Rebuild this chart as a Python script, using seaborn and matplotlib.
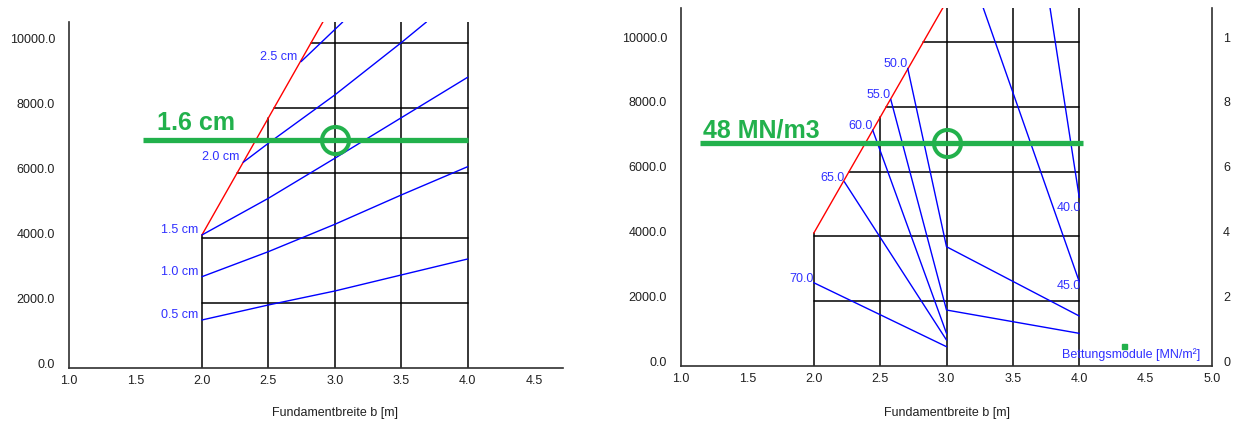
import numpy as np
import pandas as pd
import matplotlib
matplotlib.use("Agg")
import matplotlib.pyplot as plt
from matplotlib.transforms import ScaledTranslation, blended_transform_factory
import seaborn as sns

# ---------------- data ----------------
# left chart: settlement curves s [cm] over footing width b [m] and load [kN]
settle_labels = ["0.5 cm", "1.0 cm", "1.5 cm", "2.0 cm", "2.5 cm"]
s05_b = [2.0, 2.5, 3.0, 3.5, 4.0]
s05_q = [1486, 1948, 2378, 2871, 3363]
s10_b = [2.0, 2.5, 3.0, 3.5, 4.0]
s10_q = [2818, 3588, 4430, 5332, 6203]
s15_b = [2.0, 2.5, 3.0, 3.5, 4.0]
s15_q = [4101, 5230, 6461, 7708, 8954]
s20_b = [2.311, 2.5, 3.0, 3.5, 3.69]
s20_q = [6338, 6923, 8409, 10018, 10655]
s25_b = [2.746, 3.06]
s25_q = [9434, 10655]

# limit line (red) of both charts
limit_left_b = [2.0, 3.0]
limit_left_q = [4100, 11300]
limit_right_b = [2.0, 3.0]
limit_right_q = [4100, 11250]

# right chart: subgrade modulus lines [MN/m3]
modulus_labels = ["70.0", "65.0", "60.0", "55.0", "50.0", "45.0", "40.0"]
k70_b = [2.0, 3.0]
k70_q = [2571, 596]
k65_b = [2.23, 3.0]
k65_q = [5688, 802]
k60_b = [2.444, 3.0]
k60_q = [7283, 1008]
k55_b = [2.58, 3.0, 4.0]
k55_q = [8230, 1728, 1008]
k50_b = [2.708, 3.0, 4.0]
k50_q = [9187, 3682, 1543]
k45_b = [3.277, 4.0]
k45_q = [11050, 2602]
k40_b = [3.78, 4.0]
k40_q = [11050, 5200]

# design point
design_b = 3.0
design_q_left = 7020
design_q_right = 6872
design_settlement = 1.6   # cm
design_modulus = 48       # MN/m3

grid_b = [2.0, 2.5, 3.0, 3.5, 4.0]
grid_q = [2000, 4000, 6000, 8000, 10000]

x_ticks_left = [1.0, 1.5, 2.0, 2.5, 3.0, 3.5, 4.0, 4.5]
x_ticks_right = [1.0, 1.5, 2.0, 2.5, 3.0, 3.5, 4.0, 4.5, 5.0]
y_ticks = [0, 2000, 4000, 6000, 8000, 10000]
y_ticks_right_text = ["0", "2", "4", "6", "8", "1"]

# ---------------- style ----------------
sns.set_theme(style="white")
plt.rcParams["font.family"] = ["Liberation Sans", "DejaVu Sans"]
plt.rcParams["font.size"] = 9

BLUE = "#0000ff"
BLUE_TXT = "#3030ff"
RED = "#ff0000"
GREEN = "#22b14c"
INK = "#202020"

fig = plt.figure(figsize=(12.33, 4.23), dpi=100)
ax_l = fig.add_axes([69 / 1233, 1 - 368.3 / 423, (563.3 - 69) / 1233, (368.3 - 22) / 423])
ax_r = fig.add_axes([681 / 1233, 1 - 366 / 423, (1212 - 681) / 1233, (366 - 8) / 423])

ax_l.set_xlim(1.0, 4.72)
ax_l.set_ylim(0, 10655)
ax_r.set_xlim(1.0, 5.0)
ax_r.set_ylim(0, 11050)

shift_up = ScaledTranslation(0, 5 / 100, fig.dpi_scale_trans)


def draw_grid(ax, lim_b, lim_q):
    # cells only below the limit line, between b = 2.0 and 4.0
    for xv in grid_b:
        top = np.interp(xv, lim_b, lim_q)
        ax.plot([xv, xv], [0, top], color="black", lw=1.1, zorder=2)
    for yv in grid_q:
        start = max(grid_b[0], np.interp(yv, lim_q, lim_b))
        ax.plot([start, grid_b[-1]], [yv, yv], color="black", lw=1.1, zorder=2)
    ax.plot(lim_b, lim_q, color=RED, lw=1.0, zorder=3)


def long_frame(labels, bs, qs):
    rows = []
    for lab, b, q in zip(labels, bs, qs):
        for i, (bi, qi) in enumerate(zip(b, q)):
            rows.append({"curve": lab, "order": i, "b": bi, "q": qi})
    return pd.DataFrame(rows)


def style_axes(ax, xticks, keep_right=False):
    ax.set_xticks(xticks)
    ax.set_xticklabels([f"{v:.1f}" for v in xticks])
    ax.set_yticks(y_ticks)
    ax.set_yticklabels([f"{v:.1f}" for v in y_ticks])
    ax.tick_params(axis="x", length=0, pad=5, labelsize=9, labelcolor=INK)
    ax.tick_params(axis="y", length=0, pad=10, labelsize=9, labelcolor=INK)
    for sp in ax.spines.values():
        sp.set_color("#303030")
        sp.set_linewidth(1.2)
    ax.spines["top"].set_visible(False)
    if not keep_right:
        ax.spines["right"].set_visible(False)
    ax.grid(False)
    ax.set_xlabel("")
    ax.set_ylabel("")
    # numbers sit slightly above their grid line
    for t in ax.yaxis.get_major_ticks():
        t.label1.set_transform(t.label1.get_transform() + shift_up)


# ---------------- left chart: settlement ----------------
draw_grid(ax_l, limit_left_b, limit_left_q)
df_s = long_frame(settle_labels,
                  [s05_b, s10_b, s15_b, s20_b, s25_b],
                  [s05_q, s10_q, s15_q, s20_q, s25_q])
sns.lineplot(data=df_s, x="b", y="q", hue="curve", units="curve", estimator=None,
             sort=False, palette=[BLUE] * len(settle_labels), legend=False,
             lw=1.0, ax=ax_l, zorder=4)
off_l = ScaledTranslation(-4 / 100, 5 / 100, fig.dpi_scale_trans)
for lab, b, q in zip(settle_labels, [s05_b, s10_b, s15_b, s20_b, s25_b],
                     [s05_q, s10_q, s15_q, s20_q, s25_q]):
    ax_l.text(b[0], q[0], lab, color=BLUE_TXT, fontsize=9, ha="right", va="center",
              transform=ax_l.transData + off_l, zorder=5)

ax_l.plot([1.56, 4.0], [design_q_left, design_q_left], color=GREEN, lw=3.8,
          solid_capstyle="butt", zorder=6)
ax_l.plot([design_b], [design_q_left], marker="o", ms=19.5, mfc="none", mec=GREEN,
          mew=2.9, zorder=7)
ax_l.text(1.66, 7332, f"{design_settlement:.1f} cm", color=GREEN, fontsize=18,
          fontweight="bold", ha="left", va="baseline", zorder=7)

style_axes(ax_l, x_ticks_left)

# ---------------- right chart: subgrade modulus ----------------
draw_grid(ax_r, limit_right_b, limit_right_q)
k_b = [k70_b, k65_b, k60_b, k55_b, k50_b, k45_b, k40_b]
k_q = [k70_q, k65_q, k60_q, k55_q, k50_q, k45_q, k40_q]
df_k = long_frame(modulus_labels, k_b, k_q)
sns.lineplot(data=df_k, x="b", y="q", hue="curve", units="curve", estimator=None,
             sort=False, palette=[BLUE] * len(modulus_labels), legend=False,
             lw=1.0, ax=ax_r, zorder=4)
for lab, b, q in zip(modulus_labels, k_b, k_q):
    if q[0] < ax_r.get_ylim()[1] - 1:
        # label at the start on the limit line
        off = ScaledTranslation(0, 4 / 100, fig.dpi_scale_trans)
        ax_r.text(b[0], q[0], lab, color=BLUE_TXT, fontsize=9, ha="right",
                  va="center", transform=ax_r.transData + off, zorder=5)
    else:
        # lines entering from above are labelled at their lower end
        dy = -10 if lab == "40.0" else -4
        off = ScaledTranslation(2 / 100, dy / 100, fig.dpi_scale_trans)
        ax_r.text(b[-1], q[-1], lab, color=BLUE_TXT, fontsize=9, ha="right",
                  va="center", transform=ax_r.transData + off, zorder=5)

ax_r.plot([1.143, 4.026], [design_q_right, design_q_right], color=GREEN, lw=3.8,
          solid_capstyle="butt", zorder=6)
ax_r.plot([design_b], [design_q_right], marker="o", ms=19.5, mfc="none", mec=GREEN,
          mew=2.9, zorder=7)
ax_r.text(1.166, 7067, f"{design_modulus} MN/m3", color=GREEN, fontsize=18,
          fontweight="bold", ha="left", va="baseline", zorder=7)

ax_r.text(3.868, 361, "Bettungsmodule [MN/m²]", color=BLUE_TXT, fontsize=9,
          ha="left", va="center", zorder=5)
ax_r.plot([4.337], [617], marker="s", ms=3.6, color=GREEN, mec=GREEN, zorder=6)

style_axes(ax_r, x_ticks_right, keep_right=True)

# secondary scale on the right edge of the modulus chart
ax_r2 = ax_r.twinx()
ax_r2.set_ylim(ax_r.get_ylim())
ax_r2.set_yticks(y_ticks)
ax_r2.set_yticklabels(y_ticks_right_text)
ax_r2.tick_params(axis="y", length=0, pad=8, labelsize=9, labelcolor=INK)
ax_r2.grid(False)
for sp in ax_r2.spines.values():
    sp.set_visible(False)
for t in ax_r2.yaxis.get_major_ticks():
    t.label2.set_transform(t.label2.get_transform() + shift_up)

# axis titles centred under b = 3.0 m
for ax, frac in ((ax_l, -0.112), (ax_r, -0.1145)):
    ax.text(3.0, frac, "Fundamentbreite b [m]", color=INK, fontsize=9,
            ha="center", va="top",
            transform=blended_transform_factory(ax.transData, ax.transAxes))

fig.savefig("out.png", dpi=100)
